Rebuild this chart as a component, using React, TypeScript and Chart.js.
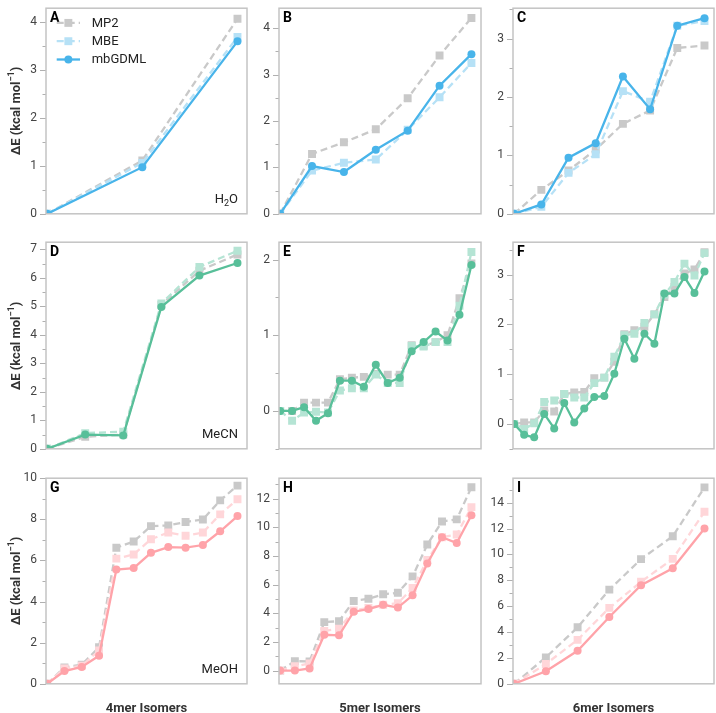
import React, { useEffect, useRef } from 'react';
import { Chart, registerables } from 'chart.js';
Chart.register(...registerables);

const FONT = 'Roboto, "Noto Sans", "DejaVu Sans", sans-serif';

// ---- data ----
const A_MP2 = [0, 1.11, 4.06];
const A_MBE = [0, 1.06, 3.68];
const A_GDML = [0, 0.97, 3.59];

const B_MP2 = [0, 1.29, 1.54, 1.82, 2.49, 3.41, 4.22];
const B_MBE = [0, 0.93, 1.10, 1.17, 1.81, 2.51, 3.25];
const B_GDML = [0, 1.03, 0.90, 1.38, 1.79, 2.76, 3.44];

const C_MP2 = [0, 0.41, 0.74, 1.10, 1.54, 1.77, 2.84, 2.88];
const C_MBE = [0, 0.12, 0.70, 1.02, 2.10, 1.92, 3.22, 3.30];
const C_GDML = [0, 0.16, 0.96, 1.21, 2.35, 1.79, 3.22, 3.35];

const D_MP2 = [0, 0.42, 0.50, 5.05, 6.25, 6.82];
const D_MBE = [0, 0.55, 0.60, 5.10, 6.38, 6.95];
const D_GDML = [0, 0.50, 0.47, 4.98, 6.08, 6.52];

const E_MP2 = [0, 0.00, 0.11, 0.11, 0.11, 0.42, 0.44, 0.45, 0.49, 0.48, 0.48, 0.87, 0.86, 0.91, 1.00, 1.49, 1.95];
const E_MBE = [0, -0.13, -0.02, -0.01, -0.02, 0.27, 0.30, 0.30, 0.48, 0.37, 0.37, 0.86, 0.85, 0.91, 0.91, 1.39, 2.10];
const E_GDML = [0, 0.00, 0.05, -0.13, -0.03, 0.40, 0.40, 0.32, 0.61, 0.37, 0.44, 0.79, 0.91, 1.05, 0.93, 1.27, 1.93];

const F_MP2 = [0, 0.03, 0.03, 0.27, 0.25, 0.60, 0.63, 0.64, 0.92, 0.93, 1.25, 1.80, 1.88, 1.95, 2.20, 2.55, 2.75, 3.02, 3.10, 3.45];
const F_MBE = [0, -0.10, 0.01, 0.44, 0.47, 0.60, 0.53, 0.53, 0.82, 0.93, 1.35, 1.78, 1.81, 2.03, 2.20, 2.60, 2.85, 3.22, 2.98, 3.43];
const F_GDML = [0, -0.22, -0.27, 0.20, -0.09, 0.42, 0.03, 0.31, 0.54, 0.56, 1.01, 1.71, 1.31, 1.81, 1.61, 2.62, 2.62, 2.95, 2.63, 3.06];

const G_MP2 = [0, 0.80, 0.93, 1.78, 6.62, 6.92, 7.67, 7.70, 7.87, 7.99, 8.92, 9.64];
const G_MBE = [0, 0.75, 0.88, 1.62, 6.09, 6.29, 7.03, 7.36, 7.20, 7.36, 8.24, 8.98];
const G_GDML = [0, 0.62, 0.82, 1.36, 5.56, 5.63, 6.37, 6.65, 6.62, 6.75, 7.42, 8.16];

const H_MP2 = [0, 0.66, 0.64, 3.38, 3.45, 4.86, 5.01, 5.32, 5.43, 6.57, 8.79, 10.40, 10.55, 12.79];
const H_MBE = [0, 0.30, 0.50, 2.77, 2.92, 4.20, 4.37, 4.59, 4.70, 5.76, 7.71, 9.30, 9.49, 11.40];
const H_GDML = [0, 0.00, 0.15, 2.50, 2.46, 4.11, 4.29, 4.59, 4.40, 5.25, 7.47, 9.30, 8.90, 10.84];

const I_MP2 = [0, 2.04, 4.37, 7.28, 9.64, 11.41, 15.19];
const I_MBE = [0, 1.53, 3.40, 5.87, 7.89, 9.66, 13.30];
const I_GDML = [0, 0.97, 2.55, 5.17, 7.62, 8.93, 12.01];

const MOLECULES = ['H2O', 'MeCN', 'MeOH'];
const X_TITLES = ['4mer Isomers', '5mer Isomers', '6mer Isomers'];

// ---- styles ----
const GREY = '#c9c9c9';
const ROW_COLORS = [
  { main: '#48b4ea', light: '#b6e1f6' },
  { main: '#58bf99', light: '#b5e4d4' },
  { main: '#ffa3a9', light: '#ffd6d9' },
];
const COLS: [number, number][] = [[46, 247], [279, 481], [513, 714]];
const ROWS: [number, number][] = [[2, 220], [236, 455], [472, 690]];
const AXW = 46, PT = 10, PB = 10, PR = 6;

type Panel = {
  letter: string; mp2: number[]; mbe: number[]; gdml: number[];
  ymin: number; ymax: number; minor: number; major: number; row: number; col: number;
};

const PANELS: Panel[] = [
  { letter: 'A', mp2: A_MP2, mbe: A_MBE, gdml: A_GDML, ymin: 0, ymax: 4.28, minor: 0.5, major: 1, row: 0, col: 0 },
  { letter: 'B', mp2: B_MP2, mbe: B_MBE, gdml: B_GDML, ymin: 0, ymax: 4.43, minor: 0.5, major: 1, row: 0, col: 1 },
  { letter: 'C', mp2: C_MP2, mbe: C_MBE, gdml: C_GDML, ymin: 0, ymax: 3.52, minor: 0.5, major: 1, row: 0, col: 2 },
  { letter: 'D', mp2: D_MP2, mbe: D_MBE, gdml: D_GDML, ymin: 0, ymax: 7.25, minor: 0.5, major: 1, row: 1, col: 0 },
  { letter: 'E', mp2: E_MP2, mbe: E_MBE, gdml: E_GDML, ymin: -0.5, ymax: 2.23, minor: 0.5, major: 1, row: 1, col: 1 },
  { letter: 'F', mp2: F_MP2, mbe: F_MBE, gdml: F_GDML, ymin: -0.5, ymax: 3.65, minor: 0.5, major: 1, row: 1, col: 2 },
  { letter: 'G', mp2: G_MP2, mbe: G_MBE, gdml: G_GDML, ymin: 0, ymax: 10, minor: 1, major: 2, row: 2, col: 0 },
  { letter: 'H', mp2: H_MP2, mbe: H_MBE, gdml: H_GDML, ymin: -0.92, ymax: 13.42, minor: 1, major: 2, row: 2, col: 1 },
  { letter: 'I', mp2: I_MP2, mbe: I_MBE, gdml: I_GDML, ymin: 0, ymax: 15.9, minor: 1, major: 2, row: 2, col: 2 },
];

const toXY = (arr: number[]) => arr.map((y, x) => ({ x, y }));
const isMult = (v: number, s: number) => Math.abs(v / s - Math.round(v / s)) < 1e-6;

function drawMolecule(ctx: CanvasRenderingContext2D, name: string, right: number, base: number) {
  const parts: { t: string; sub: boolean }[] = [];
  for (const ch of name) parts.push({ t: ch, sub: /[0-9]/.test(ch) });
  const big = `13px ${FONT}`, small = `9px ${FONT}`;
  let total = 0;
  for (const p of parts) { ctx.font = p.sub ? small : big; total += ctx.measureText(p.t).width; }
  let x = right - total;
  ctx.fillStyle = '#222';
  ctx.textAlign = 'left';
  ctx.textBaseline = 'alphabetic';
  for (const p of parts) {
    ctx.font = p.sub ? small : big;
    ctx.fillText(p.t, x, p.sub ? base + 3 : base);
    x += ctx.measureText(p.t).width;
  }
}

function PanelChart({ p }: { p: Panel }) {
  const ref = useRef<HTMLCanvasElement>(null);
  const [bl, br] = COLS[p.col];
  const [bt, bb] = ROWS[p.row];
  const w = br - bl + AXW + PR;
  const h = bb - bt + PT + PB;
  useEffect(() => {
    const colors = ROW_COLORS[p.row];
    const n = p.gdml.length;
    const tickVals: number[] = [];
    for (let v = Math.ceil(p.ymin / p.minor - 1e-9) * p.minor; v <= p.ymax + 1e-9; v += p.minor) {
      tickVals.push(Math.round(v * 1000) / 1000);
    }
    const styles = [
      { label: 'mbGDML', color: colors.main, dash: [] as number[], pt: 'circle', r: 4 },
      { label: 'MBE', color: colors.light, dash: [7, 4], pt: 'rect', r: 5.6 },
      { label: 'MP2', color: GREY, dash: [7, 4], pt: 'rect', r: 5.6 },
    ];
    const series = [p.gdml, p.mbe, p.mp2];
    const plugin = {
      id: 'deco',
      afterDatasetsDraw(chart: any) {
        const { ctx, chartArea: ca } = chart;
        const ys = chart.scales.y;
        ctx.save();
        // ticks
        ctx.strokeStyle = '#b0b0b0';
        ctx.lineWidth = 1;
        for (const t of ys.ticks) {
          const y = Math.round(ys.getPixelForValue(t.value)) + 0.5;
          const len = isMult(t.value, p.major) ? 6 : 3.5;
          ctx.beginPath();
          ctx.moveTo(ca.left - len, y);
          ctx.lineTo(ca.left, y);
          ctx.stroke();
        }
        // box
        ctx.strokeStyle = '#c4c4c4';
        ctx.lineWidth = 1.5;
        ctx.strokeRect(ca.left, ca.top, ca.right - ca.left, ca.bottom - ca.top);
        // letter
        ctx.fillStyle = '#000';
        ctx.font = `bold 14px ${FONT}`;
        ctx.textAlign = 'left';
        ctx.textBaseline = 'alphabetic';
        ctx.fillText(p.letter, ca.left + 4, ca.top + 14);
        // molecule label
        if (p.col === 0) drawMolecule(ctx, MOLECULES[p.row], ca.right - 9, ca.bottom - 11);
        // legend (MP2, MBE, mbGDML from top)
        if (p.row === 0 && p.col === 0) {
          const order = [2, 1, 0];
          order.forEach((si, k) => {
            const s = styles[si];
            const y = ca.top + 14.7 + k * 18.3;
            const x0 = ca.left + 10.7, x1 = ca.left + 34;
            const xm = (x0 + x1) / 2;
            ctx.strokeStyle = s.color;
            ctx.lineWidth = 2.3;
            ctx.setLineDash(s.dash);
            ctx.beginPath();
            ctx.moveTo(x0, y);
            ctx.lineTo(x1, y);
            ctx.stroke();
            ctx.setLineDash([]);
            ctx.fillStyle = s.color;
            if (s.pt === 'circle') {
              ctx.beginPath();
              ctx.arc(xm, y, s.r, 0, Math.PI * 2);
              ctx.fill();
            } else {
              const hs = s.r * Math.SQRT1_2;
              ctx.fillRect(xm - hs, y - hs, 2 * hs, 2 * hs);
            }
            ctx.fillStyle = '#222';
            ctx.font = `13px ${FONT}`;
            ctx.textBaseline = 'middle';
            ctx.fillText(s.label, ca.left + 45.7, y + 0.5);
            ctx.textBaseline = 'alphabetic';
          });
        }
        ctx.restore();
      },
    };
    const chart = new Chart(ref.current!, {
      type: 'line',
      data: {
        datasets: series.map((arr, i) => ({
          label: styles[i].label,
          data: toXY(arr),
          borderColor: styles[i].color,
          backgroundColor: styles[i].color,
          pointBackgroundColor: styles[i].color,
          pointBorderWidth: 0,
          borderWidth: 2.3,
          borderDash: styles[i].dash,
          pointStyle: styles[i].pt as any,
          pointRadius: styles[i].r,
          pointHoverRadius: styles[i].r,
          tension: 0,
          clip: 0 as any,
        })),
      },
      options: {
        animation: false,
        responsive: false,
        maintainAspectRatio: false,
        events: [],
        layout: { padding: { top: PT, bottom: PB, right: PR, left: 0 } },
        plugins: { legend: { display: false }, tooltip: { enabled: false } },
        scales: {
          x: { type: 'linear', display: false, min: -(n - 1) * 0.006, max: (n - 1) * 1.05 },
          y: {
            type: 'linear',
            min: p.ymin,
            max: p.ymax,
            afterFit: (s: any) => { s.width = AXW; },
            afterBuildTicks: (s: any) => { s.ticks = tickVals.map((v) => ({ value: v })); },
            grid: { display: false, drawTicks: false },
            border: { display: false },
            ticks: {
              padding: 9,
              color: '#444',
              font: { family: FONT, size: 12 },
              autoSkip: false,
              callback: (v: any) => (isMult(Number(v), p.major) ? String(Math.round(Number(v))) : ''),
            },
          },
        },
      },
      plugins: [plugin],
    });
    return () => chart.destroy();
  }, []);
  return (
    <div style={{ position: 'absolute', left: bl - AXW, top: bt - PT, width: w, height: h }}>
      <canvas ref={ref} width={w} height={h} style={{ display: 'block', width: w, height: h }} />
    </div>
  );
}

export default function App() {
  return (
    <div style={{ position: 'absolute', left: 0, top: 0, width: 716, height: 713, background: '#fff', fontFamily: FONT, overflow: 'hidden' }}>
      {PANELS.map((p) => <PanelChart key={p.letter} p={p} />)}
      {ROWS.map(([t, b], i) => (
        <div key={'yt' + i} style={{ position: 'absolute', left: 15, top: (t + b) / 2, transform: 'translate(-50%, -50%) rotate(-90deg)', whiteSpace: 'nowrap', fontSize: 13, fontWeight: 'bold', color: '#333' }}>
          ΔE (kcal mol<sup style={{ fontSize: 9, verticalAlign: 'super', lineHeight: 0 }}>−1</sup>)
        </div>
      ))}
      {COLS.map(([l, r], i) => (
        <div key={'xt' + i} style={{ position: 'absolute', left: (l + r) / 2, top: 707, transform: 'translate(-50%, -50%)', whiteSpace: 'nowrap', fontSize: 13, fontWeight: 'bold', color: '#333' }}>
          {X_TITLES[i]}
        </div>
      ))}
    </div>
  );
}
